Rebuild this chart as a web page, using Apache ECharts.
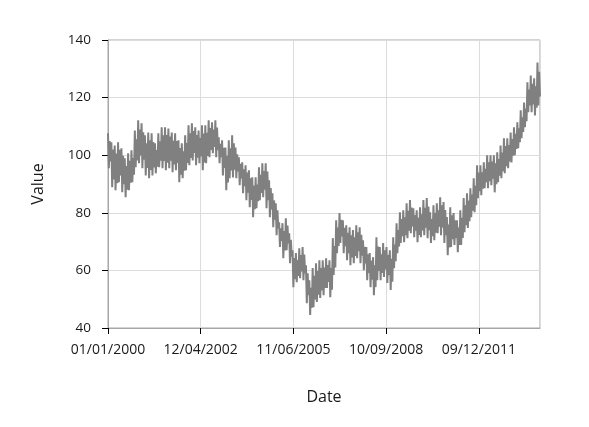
<!DOCTYPE html>
<html>
<head>
<meta charset="utf-8">
<script src="https://cdn.jsdelivr.net/npm/echarts@6/dist/echarts.min.js"></script>
<style>
  html, body { margin: 0; padding: 0; background: #ffffff; }
  #chart { width: 589px; height: 427px; }
</style>
</head>
<body>
<div id="chart"></div>
<script>
// Axis range, in days counted from 01/01/2000
const startDateUTC = Date.UTC(2000, 0, 1);
const axisMaxDay = 4977;
const tickIntervalDays = 1068;
const yTicks = { min: 40, max: 140, interval: 20 };

// Series values (high/low swings of the noisy band, in date order)
const values = [
  107.6, 95.5, 104.9, 97.8,
  104.5, 88.9, 102.0, 91.6,
  103.4, 87.8, 100.6, 90.3,
  104.5, 90.6, 101.9, 93.0,
  102.4, 87.1, 99.8, 89.9,
  98.9, 85.4, 96.2, 88.0,
  100.7, 87.8, 98.1, 90.4,
  101.7, 90.6, 99.0, 93.2,
  108.6, 95.8, 105.5, 98.2,
  112.1, 97.2, 108.9, 99.9,
  111.1, 95.5, 108.0, 98.4,
  106.9, 93.0, 104.1, 95.6,
  107.9, 92.0, 105.2, 94.9,
  107.6, 93.0, 104.6, 95.7,
  104.1, 93.7, 101.8, 96.0,
  107.6, 95.8, 104.8, 98.1,
  109.7, 95.5, 106.9, 98.0,
  109.7, 94.8, 107.0, 97.4,
  109.3, 95.5, 106.5, 98.1,
  107.9, 94.1, 105.0, 96.8,
  107.6, 94.8, 104.9, 97.3,
  105.2, 90.6, 102.5, 93.2,
  104.1, 92.0, 101.4, 94.6,
  106.9, 94.8, 104.2, 97.3,
  110.4, 96.5, 107.6, 99.0,
  111.1, 98.2, 108.4, 100.8,
  109.7, 96.5, 107.0, 99.1,
  108.6, 97.2, 106.0, 99.6,
  110.4, 94.8, 107.5, 97.5,
  110.4, 97.2, 107.8, 99.7,
  112.1, 99.3, 109.4, 101.8,
  111.4, 100.7, 108.9, 102.9,
  112.1, 99.3, 109.6, 101.7,
  106.2, 97.2, 104.0, 99.3,
  105.2, 93.0, 102.6, 95.6,
  102.7, 87.8, 99.8, 90.5,
  105.2, 92.0, 102.4, 94.7,
  106.9, 92.3, 104.1, 95.0,
  102.7, 92.0, 100.3, 94.4,
  99.3, 89.6, 97.0, 91.9,
  97.5, 86.8, 95.1, 89.2,
  96.5, 84.4, 94.0, 87.0,
  94.8, 81.9, 92.0, 84.5,
  92.3, 78.5, 89.5, 81.2,
  92.3, 81.6, 89.8, 84.0,
  95.8, 84.4, 93.2, 86.9,
  97.2, 85.4, 94.5, 88.0,
  97.2, 81.6, 94.3, 84.4,
  91.3, 78.5, 88.6, 81.2,
  86.8, 75.0, 84.3, 77.6,
  83.3, 72.2, 80.9, 74.6,
  76.7, 68.1, 74.6, 70.2,
  76.4, 64.2, 73.7, 66.9,
  78.1, 67.0, 75.6, 69.4,
  72.9, 62.5, 70.6, 64.8,
  67.0, 54.2, 64.3, 56.9,
  66.0, 55.9, 63.6, 58.1,
  67.7, 57.3, 65.3, 59.6,
  68.1, 56.6, 65.5, 59.0,
  61.8, 48.6, 59.0, 51.4,
  56.6, 44.5, 54.0, 47.0,
  60.8, 47.2, 58.1, 49.9,
  62.5, 49.0, 59.8, 51.6,
  63.5, 50.4, 60.8, 53.0,
  63.5, 51.4, 61.0, 53.9,
  64.2, 53.9, 61.9, 56.0,
  63.5, 50.7, 60.8, 53.3,
  71.2, 58.4, 68.5, 61.0,
  77.4, 66.0, 74.9, 68.5,
  79.9, 69.5, 77.6, 71.8,
  77.4, 66.0, 74.8, 68.4,
  75.7, 63.5, 73.1, 66.0,
  75.0, 61.8, 72.2, 64.5,
  74.0, 62.5, 71.5, 65.0,
  75.7, 64.2, 73.2, 66.7,
  75.0, 62.5, 72.4, 65.1,
  70.5, 60.1, 68.2, 62.4,
  68.1, 56.6, 65.6, 59.1,
  66.0, 54.2, 63.4, 56.8,
  64.6, 51.4, 61.8, 54.2,
  71.5, 56.6, 68.3, 59.8,
  68.1, 56.6, 65.6, 59.1,
  69.5, 57.7, 67.0, 60.3,
  68.1, 55.6, 65.4, 58.3,
  67.0, 53.2, 64.0, 56.1,
  71.5, 60.8, 69.0, 63.2,
  76.4, 66.0, 74.0, 68.3,
  80.2, 69.5, 77.8, 71.9,
  80.9, 69.8, 78.4, 72.2,
  83.3, 71.2, 80.7, 73.8,
  84.4, 72.9, 81.8, 75.3,
  81.6, 71.5, 79.2, 73.8,
  80.9, 69.8, 78.3, 72.3,
  81.9, 71.5, 79.5, 73.9,
  84.4, 72.2, 81.7, 74.8,
  85.1, 71.2, 82.2, 74.0,
  80.2, 69.5, 77.8, 71.9,
  82.6, 70.5, 80.0, 73.1,
  83.3, 72.9, 80.9, 75.2,
  85.4, 72.2, 82.6, 74.9,
  83.7, 69.5, 81.0, 72.2,
  78.5, 65.3, 75.9, 68.0,
  81.9, 68.1, 79.1, 70.8,
  79.9, 68.8, 77.4, 71.2,
  77.4, 66.3, 74.9, 68.8,
  80.9, 68.8, 78.3, 71.3,
  85.1, 73.3, 82.6, 75.7,
  86.8, 74.7, 84.3, 77.1,
  88.5, 78.5, 86.3, 80.7,
  92.0, 80.2, 89.4, 82.6,
  96.5, 85.1, 94.0, 87.5,
  96.5, 86.1, 94.1, 88.4,
  97.5, 88.5, 95.3, 90.6,
  100.0, 88.5, 97.5, 91.0,
  100.0, 89.6, 97.8, 91.8,
  100.0, 87.1, 97.2, 89.9,
  101.0, 90.6, 98.7, 92.9,
  103.4, 92.0, 100.9, 94.4,
  105.9, 93.7, 103.2, 96.2,
  105.9, 95.5, 103.5, 97.8,
  107.9, 97.5, 105.6, 99.8,
  109.7, 100.0, 107.4, 102.2,
  111.4, 102.4, 109.3, 104.5,
  115.6, 105.9, 113.2, 108.1,
  118.3, 109.7, 116.2, 111.8,
  125.3, 114.9, 122.8, 117.3,
  127.7, 114.9, 124.8, 117.6,
  126.7, 113.8, 123.9, 116.5,
  132.2, 117.3, 129.0, 120.4
];

// Samples are evenly spaced in time over the whole axis
const stepDays = axisMaxDay / (values.length - 1);
const seriesData = values.map((v, i) => [i * stepDays, v]);

function pad(n) { return (n < 10 ? '0' : '') + n; }
function dayLabel(d) {
  const dt = new Date(startDateUTC + Math.round(d) * 86400000);
  return pad(dt.getUTCMonth() + 1) + '/' + pad(dt.getUTCDate()) + '/' + dt.getUTCFullYear();
}

const FONT = '"Open Sans", "Noto Sans", sans-serif';
const chart = echarts.init(document.getElementById('chart'), null, { renderer: 'canvas' });
chart.setOption({
  animation: false,
  backgroundColor: '#ffffff',
  grid: {
    left: 108, right: 49, top: 40, bottom: 99,
    show: true, borderColor: '#a6a6a6', borderWidth: 1, backgroundColor: 'transparent'
  },
  xAxis: {
    type: 'value',
    min: 0, max: axisMaxDay, interval: tickIntervalDays,
    name: 'Date', nameLocation: 'middle', nameGap: 61,
    nameTextStyle: { fontFamily: FONT, fontSize: 16, color: '#1a1a1a' },
    axisLine: { show: true, lineStyle: { color: '#a6a6a6', width: 1 } },
    axisTick: { show: true, length: 6, lineStyle: { color: '#000000', width: 1 } },
    axisLabel: {
      show: true, margin: 15, showMaxLabel: false,
      fontFamily: FONT, fontSize: 14, color: '#1a1a1a',
      formatter: dayLabel
    },
    splitLine: { show: true, lineStyle: { color: '#dcdcdc', width: 1 } }
  },
  yAxis: {
    type: 'value',
    min: yTicks.min, max: yTicks.max, interval: yTicks.interval,
    name: 'Value', nameLocation: 'middle', nameGap: 62,
    nameTextStyle: { fontFamily: FONT, fontSize: 16, color: '#1a1a1a' },
    axisLine: { show: true, lineStyle: { color: '#a6a6a6', width: 1 } },
    axisTick: { show: true, length: 6, lineStyle: { color: '#000000', width: 1 } },
    axisLabel: { show: true, margin: 17, fontFamily: FONT, fontSize: 13.5, color: '#1a1a1a' },
    splitLine: { show: true, lineStyle: { color: '#dcdcdc', width: 1 } }
  },
  series: [{
    type: 'line',
    data: seriesData,
    showSymbol: false,
    symbol: 'none',
    sampling: null,
    lineStyle: { color: '#808080', width: 2 },
    itemStyle: { color: '#808080' },
    clip: true
  }]
});
</script>
</body>
</html>
